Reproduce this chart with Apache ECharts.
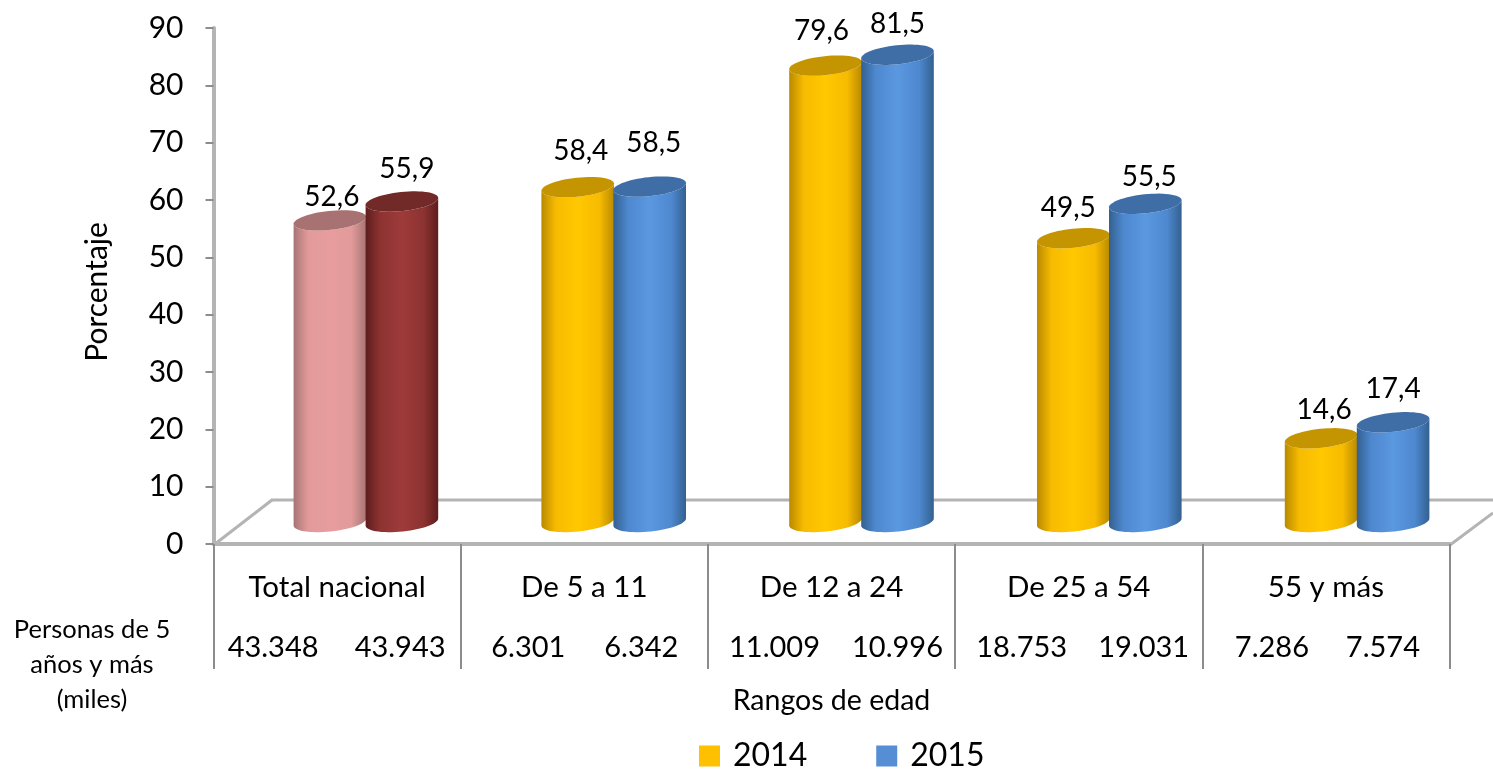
<!DOCTYPE html>
<html><head><meta charset="utf-8">
<style>html,body{margin:0;padding:0;background:#fff}#c{width:1493px;height:770px}</style>
<script src="https://cdn.jsdelivr.net/npm/echarts@6/dist/echarts.min.js"></script>
</head><body><div id="c"></div>
<script>
const categories = ['Total nacional','De 5 a 11','De 12 a 24','De 25 a 54','55 y más'];
const values2014 = [52.6,58.4,79.6,49.5,14.6];
const values2015 = [55.9,58.5,81.5,55.5,17.4];
const personas2014 = ['43.348','6.301','11.009','18.753','7.286'];
const personas2015 = ['43.943','6.342','10.996','19.031','7.574'];
const yTicks = {min:0,max:90,interval:10};

// layout only
const FONT = 'Lato, Carlito, sans-serif';
const labelDx14 = [2,3,-4,-5,3], labelDy14 = [-23,-36,-35,-30,-28];
const labelDx15 = [5,4,0,4,0],  labelDy15 = [-33,-44,-31,-27,-33];
const persDx14 = [-64,-56,-57,-57,-54], persDx15 = [63,57,66,65,57];
const pal = {
  yellow:{edge:'#b98a00',mid:'#ffc800',top:'#c49500',base:'#f7bb00',legend:'#ffc000'},
  blue:{edge:'#33608f',mid:'#5a98e0',top:'#3f6ea6',base:'#4e88cf',legend:'#558ed5'},
  pink:{edge:'#a87474',mid:'#e79d9d',top:'#a87272',base:'#e29a9a'},
  red:{edge:'#5e1c1c',mid:'#9e3a3a',top:'#722a28',base:'#8c3331'}
};
function ell(cx,cy,a,b,phi,t){
  const c=Math.cos(t),s=Math.sin(t);
  return [cx+a*c*Math.cos(phi)-b*s*Math.sin(phi), cy+a*c*Math.sin(phi)+b*s*Math.cos(phi)];
}
function cylinder(side,palFirst,palRest,dxs,dys){
  return function(params,api){
    const i=api.value(0), v=api.value(1);
    const c0=api.coord([i,0]), c1=api.coord([i,v]);
    const w=72, cx=c0[0]+side*36, a=w/2+0.5, b=9.5, phi=-6*Math.PI/180;
    const p=i===0?palFirst:palRest;
    const pts=[];
    for(let k=0;k<=30;k++) pts.push(ell(cx,c0[1],a,b,phi,Math.PI-k/30*Math.PI));
    for(let k=0;k<=30;k++) pts.push(ell(cx,c1[1],a,b,phi,k/30*Math.PI));
    const top=[];
    for(let k=0;k<60;k++) top.push(ell(cx,c1[1],a,b,phi,k/60*2*Math.PI));
    const grad={type:'linear',x:0,y:0,x2:1,y2:0,colorStops:[
      {offset:0,color:p.edge},{offset:0.2,color:p.base},{offset:0.5,color:p.mid},{offset:0.8,color:p.base},{offset:1,color:p.edge}]};
    return {type:'group',children:[
      {type:'polygon',shape:{points:pts},style:{fill:grad}},
      {type:'polygon',shape:{points:top},style:{fill:p.top}},
      {type:'text',style:{text:String(v).replace('.',','),x:cx+dxs[i],y:c1[1]+dys[i],align:'center',verticalAlign:'middle',fill:'#000',font:'28px '+FONT}}
    ]};
  };
}
const grey='#b4b4b4';
const floorLine=(x1,y1,x2,y2)=>({type:'line',z:0,shape:{x1,y1,x2,y2},style:{stroke:grey,lineWidth:3}});
const chart=echarts.init(document.getElementById('c'),null,{renderer:'canvas'});
chart.setOption({
  animation:false,
  backgroundColor:'#fff',
  textStyle:{fontFamily:FONT,color:'#000'},
  grid:[
    {left:213.5,top:28,width:1236,height:516,containLabel:false},
    {left:242,top:6,width:1239,height:516,containLabel:false}
  ],
  xAxis:[
    {type:'category',gridIndex:0,data:categories,name:'Rangos de edad',nameLocation:'middle',nameGap:142,
     nameTextStyle:{fontSize:28.5,color:'#000',fontFamily:FONT},
     axisLine:{lineStyle:{color:grey,width:4}},
     axisTick:{show:true,length:125,lineStyle:{color:'#8c8c8c',width:2}},
     axisLabel:{color:'#000',fontSize:29.5,fontFamily:FONT,margin:28,interval:0},splitLine:{show:false}},
    {type:'category',gridIndex:1,data:categories,show:false}
  ],
  yAxis:[
    {type:'value',gridIndex:0,min:yTicks.min,max:yTicks.max,interval:yTicks.interval,
     name:'Porcentaje',nameLocation:'middle',nameRotate:90,nameGap:101,
     nameTextStyle:{fontSize:30,color:'#000',fontFamily:FONT,padding:[0,12,0,0]},
     axisLine:{show:true,lineStyle:{color:grey,width:4}},
     axisTick:{show:true,length:8,lineStyle:{color:'#8c8c8c',width:2}},
     axisLabel:{color:'#000',fontSize:30,fontFamily:FONT,margin:30},splitLine:{show:false}},
    {type:'value',gridIndex:1,min:yTicks.min,max:yTicks.max,interval:yTicks.interval,show:false}
  ],
  legend:{data:['2014','2015'],left:699,top:740,padding:0,itemWidth:21,itemHeight:21,itemGap:69,icon:'rect',
    textStyle:{fontSize:32,color:'#000',fontFamily:FONT,padding:[0,0,0,8]}},
  graphic:[
    floorLine(215,544,272,500),floorLine(271,500,1493,500),floorLine(1450,545,1493,513),
    {type:'text',x:92,y:665,z:5,style:{text:'Personas de 5\naños y más\n(miles)',align:'center',verticalAlign:'middle',
      fill:'#000',font:'25.5px '+FONT,lineHeight:35}}
  ],
  series:[
    {name:'2014',type:'custom',xAxisIndex:1,yAxisIndex:1,z:3,itemStyle:{color:pal.yellow.legend},
     data:categories.map((c,i)=>[i,values2014[i]]),encode:{x:0,y:1},
     renderItem:cylinder(-1,pal.pink,pal.yellow,labelDx14,labelDy14)},
    {name:'2015',type:'custom',xAxisIndex:1,yAxisIndex:1,z:4,itemStyle:{color:pal.blue.legend},
     data:categories.map((c,i)=>[i,values2015[i]]),encode:{x:0,y:1},
     renderItem:cylinder(1,pal.red,pal.blue,labelDx15,labelDy15)},
    {name:'Personas',type:'custom',xAxisIndex:0,yAxisIndex:0,z:5,silent:true,
     data:categories.map((c,i)=>[i,0]),encode:{x:0,y:1},
     renderItem:function(params,api){
       const i=api.value(0), p=api.coord([i,0]);
       const t=(s,dx)=>({type:'text',style:{text:s,x:p[0]+dx,y:p[1]+104,align:'center',verticalAlign:'middle',fill:'#000',font:'29px '+FONT}});
       return {type:'group',children:[t(personas2014[i],persDx14[i]),t(personas2015[i],persDx15[i])]};
     }}
  ]
});
</script></body></html>
